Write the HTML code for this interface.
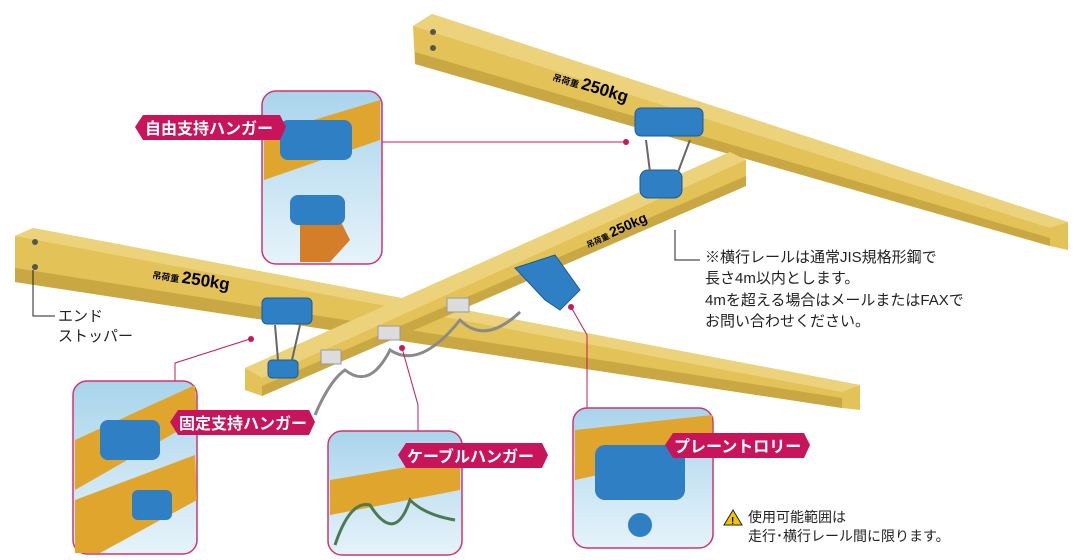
<!DOCTYPE html>
<html><head><meta charset="utf-8"><style>
body{margin:0;background:#fff;}
svg{display:block;font-family:"Liberation Sans","Noto Sans CJK JP",sans-serif;}
</style></head><body>
<svg width="1080" height="560" viewBox="0 0 1080 560">
<defs>
<linearGradient id="sky" x1="0" y1="0" x2="0" y2="1"><stop offset="0" stop-color="#a9d4ec"/><stop offset="1" stop-color="#e6f3fa"/></linearGradient>
</defs>
<!-- top rail -->
<polygon points="413,26 432,14 1068,222 1068,250 1050,246 415,64" fill="#e3c257"/>
<polygon points="413,26 432,14 1068,222 1050,228" fill="#ecd27a"/>
<polygon points="415,52 1050,238 1050,246 415,64" fill="#c9a843"/>
<circle cx="433" cy="32" r="3" fill="#555"/><circle cx="433" cy="48" r="3" fill="#555"/>
<text x="0" y="0" font-weight="bold" transform="translate(552,80) rotate(17)"><tspan font-size="9">吊荷重 </tspan><tspan font-size="17">250kg</tspan></text>
<!-- left rail -->
<polygon points="15,236 33,228 860,385 860,410 842,408 15,282" fill="#e3c257"/>
<polygon points="15,236 33,228 860,385 842,392" fill="#ecd27a"/>
<polygon points="15,268 842,398 842,408 15,282" fill="#c9a843"/>
<circle cx="35" cy="242" r="3" fill="#555"/><circle cx="35" cy="267" r="3" fill="#555"/>
<text x="0" y="0" font-weight="bold" transform="translate(152,278) rotate(9)"><tspan font-size="9">吊荷重 </tspan><tspan font-size="17">250kg</tspan></text>
<!-- cross beam -->
<polygon points="245,368 730,152 746,160 746,186 262,396 245,390" fill="#e3c257"/>
<polygon points="245,368 730,152 746,160 262,378" fill="#ecd27a"/>
<polygon points="262,386 746,176 746,186 262,396" fill="#c9a843"/>
<text x="0" y="0" font-weight="bold" transform="translate(588,248) rotate(-24)"><tspan font-size="8">吊荷重 </tspan><tspan font-size="14">250kg</tspan></text>
<!-- hangers -->
<g fill="#2f7fc4" stroke="#1a5a99" stroke-width="1">
<rect x="635" y="108" width="68" height="28" rx="6"/>
<rect x="640" y="170" width="42" height="28" rx="8"/>
<rect x="262" y="298" width="50" height="26" rx="5"/>
<rect x="268" y="360" width="30" height="18" rx="4"/>
<path d="M515 268 L555 255 L580 290 L560 310 L545 300 Z"/>
</g>
<g stroke="#666" stroke-width="2" fill="none">
<path d="M646 140 L650 172 M690 140 L678 172 M275 325 L278 360 M300 325 L292 360"/>
</g>
<g fill="#dcdcdc" stroke="#999">
<rect x="321" y="350" width="20" height="14"/><rect x="378" y="326" width="22" height="14"/><rect x="447" y="298" width="22" height="14"/>
</g>
<path d="M315 415 Q330 380 345 370 Q370 390 390 350 Q420 370 460 320 Q485 345 520 312" stroke="#8a8a8a" stroke-width="3" fill="none"/>
<!-- connectors -->
<g stroke="#c8185a" stroke-width="1" fill="none">
<line x1="382" y1="142" x2="626" y2="142"/>
<polyline points="250,339 175,363 175,382"/>
<polyline points="402,348 418,405 418,432"/>
<polyline points="571,307 587,335 587,410"/>
</g>
<g fill="#c8185a"><circle cx="626" cy="142" r="3"/><circle cx="251" cy="339" r="3"/><circle cx="402" cy="348" r="3"/><circle cx="571" cy="307" r="3"/></g>
<g stroke="#222" stroke-width="1" fill="none">
<polyline points="33,270 33,316 55,316"/>
<polyline points="675,230 675,260 700,260"/>
</g>
<!-- insets -->
<g stroke="#d2336f" stroke-width="1.5">
<rect x="262" y="91" width="120" height="173" rx="14" fill="url(#sky)"/>
<rect x="73" y="381" width="124" height="173" rx="14" fill="url(#sky)"/>
<rect x="328" y="431" width="134" height="124" rx="14" fill="url(#sky)"/>
<rect x="573" y="408" width="140" height="140" rx="14" fill="url(#sky)"/>
</g>
<polygon points="264,135 380,100 380,140 264,180" fill="#e0a52c"/>
<rect x="280" y="120" width="72" height="40" rx="8" fill="#2f7fc4"/>
<polygon points="300,210 330,200 350,240 330,262 300,262" fill="#d47e2a"/>
<rect x="290" y="195" width="55" height="30" rx="8" fill="#2f7fc4"/>
<polygon points="75,440 195,385 197,420 75,490" fill="#e0a52c"/>
<polygon points="75,500 195,455 197,500 100,553 75,553" fill="#e0a52c"/>
<rect x="100" y="420" width="60" height="40" rx="8" fill="#2f7fc4"/>
<rect x="132" y="490" width="40" height="30" rx="6" fill="#2f7fc4"/>
<polygon points="330,480 460,458 460,490 330,515" fill="#e0a52c"/>
<path d="M335 545 Q350 500 370 505 Q395 545 410 500 Q425 515 455 520" stroke="#4c7a50" stroke-width="3" fill="none"/>
<polygon points="575,430 712,415 712,450 575,480" fill="#e0a52c"/>
<rect x="595" y="445" width="90" height="55" rx="10" fill="#2f7fc4"/>
<circle cx="640" cy="525" r="12" fill="#2f7fc4"/>
<!-- tags -->
<g fill="#c8145a">
<polygon points="135,127 143,115 280,115 286,127 280,140 143,140"/>
<polygon points="170,422 178,410 309,410 315,422 309,435 178,435"/>
<polygon points="398,455 406,443 542,443 548,455 542,468 406,468"/>
<polygon points="665,445 673,433 804,433 810,445 804,458 673,458"/>
</g>
<g fill="#fff" font-size="16" font-weight="bold">
<text x="145" y="134">自由支持ハンガー</text>
<text x="179" y="429">固定支持ハンガー</text>
<text x="407" y="462">ケーブルハンガー</text>
<text x="674" y="452">プレーントロリー</text>
</g>
<g font-size="15" fill="#222">
<text x="58" y="321">エンド</text>
<text x="58" y="341">ストッパー</text>
<text x="705" y="262">※横行レールは通常JIS規格形鋼で</text>
<text x="705" y="283">長さ4m以内とします。</text>
<text x="705" y="305">4mを超える場合はメールまたはFAXで</text>
<text x="705" y="326">お問い合わせください。</text>
<text x="748" y="522" font-size="14">使用可能範囲は</text>
<text x="748" y="541" font-size="14">走行･横行レール間に限ります。</text>
</g>
<polygon points="733,510 742,525 724,525" fill="#f5c400" stroke="#222"/>
<text x="731" y="524" font-size="10" font-weight="bold">!</text>
</svg>
</body></html>
